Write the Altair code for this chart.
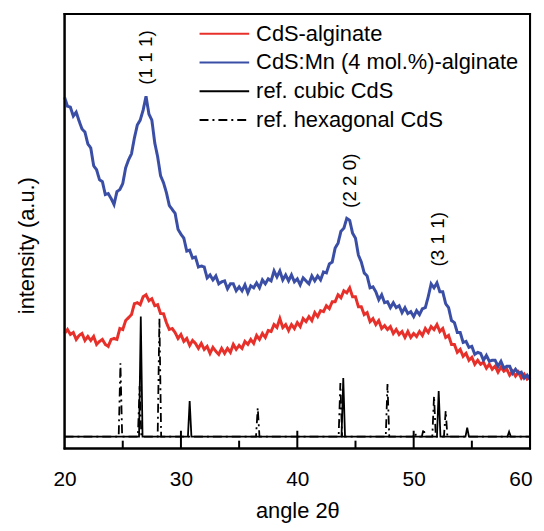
import altair as alt
import pandas as pd

# ---------------- data ----------------
ANGLE = [round(20 + 0.25 * i, 2) for i in range(161)]

CDS_ALGINATE = [
    116, 120, 115, 117, 110, 114, 116, 109, 113, 109, 113, 105, 108, 110, 105, 103,
    110, 111, 110, 121, 120, 129, 132, 135, 146, 147, 145, 153, 155, 149, 151, 144,
    145, 136, 136, 127, 120, 121, 117, 111, 115, 108, 111, 104, 109, 106, 101, 106,
    100, 103, 96, 102, 98, 95, 101, 96, 101, 97, 105, 100, 104, 101, 108, 105,
    110, 106, 114, 110, 116, 112, 119, 118, 125, 122, 131, 122, 125, 119, 125, 121,
    127, 123, 131, 128, 133, 129, 137, 133, 139, 138, 144, 141, 148, 148, 155, 152,
    159, 157, 162, 153, 153, 143, 143, 135, 137, 128, 131, 125, 129, 121, 124, 120,
    123, 116, 120, 115, 118, 112, 118, 112, 116, 113, 118, 114, 121, 117, 123, 120,
    125, 118, 121, 112, 114, 105, 105, 97, 100, 93, 96, 89, 92, 85, 89, 85,
    87, 81, 85, 80, 83, 77, 82, 78, 80, 74, 78, 73, 77, 71, 75, 70,
    72,
]

CDS_MN_ALGINATE = [
    354, 345, 344, 335, 339, 330, 322, 319, 307, 303, 285, 281, 271, 269, 256, 257,
    252, 246, 259, 261, 267, 283, 291, 297, 313, 326, 331, 341, 355, 337, 331, 308,
    294, 275, 268, 258, 245, 241, 237, 221, 216, 212, 199, 200, 192, 193, 183, 184,
    183, 172, 175, 170, 174, 166, 168, 169, 161, 166, 166, 159, 163, 159, 165, 157,
    164, 162, 167, 162, 170, 166, 171, 169, 179, 173, 179, 170, 175, 169, 175, 168,
    171, 165, 172, 169, 166, 174, 169, 174, 170, 178, 177, 186, 188, 202, 207, 219,
    222, 232, 230, 217, 212, 195, 188, 177, 174, 162, 163, 158, 150, 155, 147, 148,
    142, 147, 142, 144, 137, 142, 136, 138, 133, 139, 135, 141, 142, 153, 166, 162,
    167, 158, 158, 146, 142, 129, 127, 117, 117, 107, 108, 102, 103, 95, 97, 96,
    89, 94, 88, 89, 89, 83, 88, 81, 83, 83, 76, 80, 76, 77, 71, 74,
    70,
]

REF_BASE = 12
CUBIC_POS = [26.55, 30.75, 43.95, 52.15, 54.6, 58.2]
CUBIC_INT = [133, 48, 71, 58, 21, 17]
HEX_POS = [24.8, 26.45, 28.15, 36.6, 43.7, 47.75, 50.1, 50.85, 51.75, 52.75]
HEX_INT = [86, 63, 131, 41, 66, 65, 16, 20, 53, 38]

MAJOR_TICKS = [30, 40, 50]
MINOR_TICKS = [25, 35, 45, 55]
X_LABELS = [20, 30, 40, 50, 60]
X_EDGES = [20, 60]
Y_EDGES = [0, 438]

PEAK_LABELS = ["(1 1 1)", "(2 2 0)", "(3 1 1)"]
PEAK_LABEL_ANGLE = [27.0, 44.5, 52.1]
PEAK_LABEL_INT = [394, 270, 211]

SERIES = ["CdS-alginate", "CdS:Mn (4 mol.%)-alginate", "ref. cubic CdS", "ref. hexagonal CdS"]
COLORS = ["#e8302b", "#3a4ea6", "#000000", "#000000"]
DASHES = [[1, 0], [1, 0], [1, 0], [9, 4, 2, 4]]

# ---------------- build tables ----------------
W, H = 469, 438
FONT = "Liberation Sans"


def ref_rows(name, pos, inten):
    rows = [(20.0, REF_BASE)]
    for p, h in zip(pos, inten):
        rows += [(p - 0.15, REF_BASE), (p, h), (p + 0.15, REF_BASE)]
    rows.append((60.0, REF_BASE))
    return pd.DataFrame({"angle": [r[0] for r in rows],
                         "intensity": [r[1] for r in rows],
                         "series": name})


red_df = pd.DataFrame({"angle": ANGLE, "intensity": CDS_ALGINATE, "series": SERIES[0]})
blue_df = pd.DataFrame({"angle": ANGLE, "intensity": CDS_MN_ALGINATE, "series": SERIES[1]})
cub_df = ref_rows(SERIES[2], CUBIC_POS, CUBIC_INT)
hex_df = ref_rows(SERIES[3], HEX_POS, HEX_INT)

xscale = alt.Scale(domain=[20, 60], nice=False, zero=False)
yscale = alt.Scale(domain=[0, 438], nice=False, zero=False)

x_enc = alt.X("angle:Q", scale=xscale,
              axis=alt.Axis(title="angle 2θ", values=X_LABELS, format="d", ticks=False,
                            tickSize=0, domain=False, grid=False, labelFontSize=21,
                            labelFont=FONT, labelColor="black", labelPadding=20,
                            labelFlush=False,
                            labelAlign=alt.condition("datum.value >= 60",
                                                     alt.value("right"), alt.value("center")),
                            labelOffset=alt.condition("datum.value >= 60",
                                                      alt.value(2), alt.value(0)),
                            titleFontSize=22, titleFont=FONT, titleFontWeight="normal",
                            titleColor="black", titlePadding=11))
y_enc = alt.Y("intensity:Q", scale=yscale,
              axis=alt.Axis(title="intensity (a.u.)", labels=False, ticks=False, domain=False,
                            grid=False, titleFontSize=22, titleFont=FONT,
                            titleFontWeight="normal", titleColor="black",
                            titlePadding=26, titleY=233))

color_enc = alt.Color("series:N", scale=alt.Scale(domain=SERIES, range=COLORS),
                      legend=alt.Legend(title=None, orient="none", legendX=135, legendY=10,
                                        symbolType="stroke", symbolSize=2500,
                                        symbolStrokeWidth=2, clipHeight=20, rowPadding=7,
                                        labelFontSize=22, labelFont=FONT, labelColor="black",
                                        labelLimit=400, labelOffset=6, padding=0))
dash_enc = alt.StrokeDash("series:N", scale=alt.Scale(domain=SERIES, range=DASHES),
                          legend=None)


def line_layer(df, width):
    return alt.Chart(df).mark_line(strokeWidth=width, strokeJoin="miter").encode(
        x=x_enc, y=y_enc, color=color_enc, strokeDash=dash_enc, order="angle:Q")


hex_layer = line_layer(hex_df, 1.8)
cub_layer = line_layer(cub_df, 1.8)
red_layer = line_layer(red_df, 3.0)
blue_layer = line_layer(blue_df, 3.0)

major = alt.Chart(pd.DataFrame({"angle": MAJOR_TICKS})).mark_rule(
    color="black", strokeWidth=2).encode(
    x=alt.X("angle:Q", scale=xscale), y=alt.value(H), y2=alt.value(H - 18))
minor = alt.Chart(pd.DataFrame({"angle": MINOR_TICKS})).mark_rule(
    color="black", strokeWidth=2).encode(
    x=alt.X("angle:Q", scale=xscale), y=alt.value(H), y2=alt.value(H - 8))

frame_v = alt.Chart(pd.DataFrame({"angle": X_EDGES})).mark_rule(
    color="black", strokeWidth=2).encode(
    x=alt.X("angle:Q", scale=xscale), y=alt.value(-1), y2=alt.value(H + 1))
frame_h = alt.Chart(pd.DataFrame({"intensity": Y_EDGES})).mark_rule(
    color="black", strokeWidth=2).encode(
    y=alt.Y("intensity:Q", scale=yscale), x=alt.value(-1), x2=alt.value(W + 1))

labels_df = pd.DataFrame({"angle": PEAK_LABEL_ANGLE, "intensity": PEAK_LABEL_INT,
                          "label": PEAK_LABELS})
peak_text = alt.Chart(labels_df).mark_text(
    angle=270, fontSize=19, font=FONT, color="black", align="center",
    baseline="middle").encode(
    x=alt.X("angle:Q", scale=xscale), y=alt.Y("intensity:Q", scale=yscale), text="label:N")

chart = alt.layer(hex_layer, cub_layer, red_layer, blue_layer, major, minor, peak_text,
                  frame_v, frame_h).properties(
    width=W, height=H,
    padding={"left": 8, "top": 2, "right": 0, "bottom": 0},
    background="white",
).configure_view(stroke="black", strokeWidth=2)

chart.save("out.html", embed_options={"renderer": "svg", "actions": False})
